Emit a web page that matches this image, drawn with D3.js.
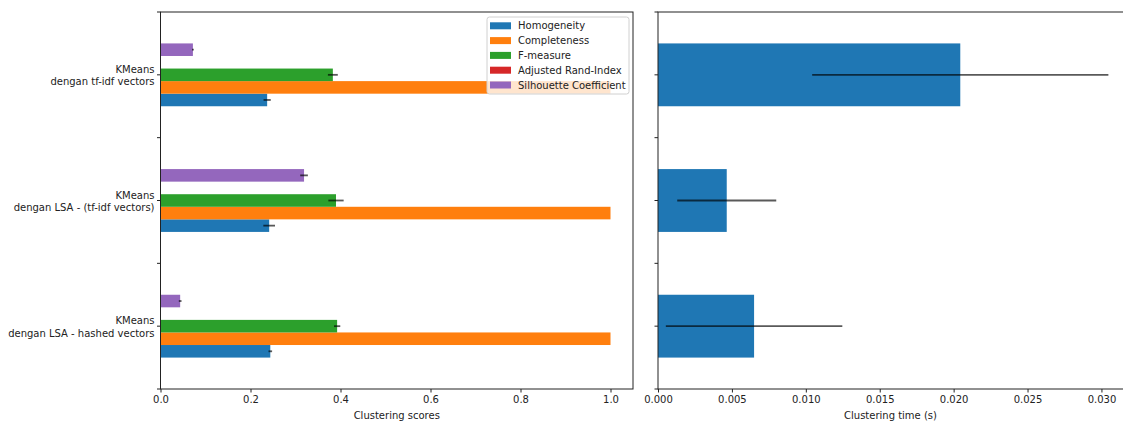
<!DOCTYPE html>
<html>
<head>
<meta charset="utf-8">
<script src="https://cdn.jsdelivr.net/npm/d3@7"></script>
<style>
  body { margin: 0; background: #fff; }
  text { font-family: "DejaVu Sans", sans-serif; fill: #222; }
</style>
</head>
<body>
<div id="chart"></div>
<script>
////////////////////////////////////////////////////////////////////////
// Data (bottom to top, matching the y positions 0, 1, 2)

let estimators = [
  ["KMeans", "dengan LSA - hashed vectors"],
  ["KMeans", "dengan LSA - (tf-idf vectors)"],
  ["KMeans", "dengan tf-idf vectors"]
];
let metrics = ["Homogeneity", "Completeness", "F-measure", "Adjusted Rand-Index", "Silhouette Coefficient"];

let homogeneity = [0.244, 0.2415, 0.237];
let completeness = [1.0, 1.0, 1.0];
let fMeasure = [0.3925, 0.39, 0.383];
let randIndex = [0, 0, 0];
let silhouette = [0.0437, 0.319, 0.072];

let homogeneityStd = [0.004, 0.013, 0.008];
let completenessStd = [0, 0, 0];
let fMeasureStd = [0.007, 0.017, 0.011];
let randIndexStd = [0, 0, 0];
let silhouetteStd = [0.003, 0.0085, 0.002];

let trainTime = [0.0065, 0.00465, 0.02045];
let trainTimeStd = [0.00597, 0.00335, 0.01002];

let scoreTicks = [0, 0.2, 0.4, 0.6, 0.8, 1.0];
let timeTicks = [0, 0.005, 0.010, 0.015, 0.020, 0.025, 0.030];
let yTicks = [-0.5, 0, 0.5, 1, 1.5, 2, 2.5];

let colors = ["#1f77b4", "#ff7f0e", "#2ca02c", "#d62728", "#9467bd"];

////////////////////////////////////////////////////////////////////////
// Layout

let width = 1123, height = 421;
let plotTop = 12, plotBottom = 389;
let left0 = 160.5, right0 = 633;
let left1 = 658, right1 = 1131;

let svg = d3.select("#chart").append("svg")
  .attr("width", width)
  .attr("height", height);

let yScale = d3.scaleLinear().domain([-0.5, 2.5]).range([plotBottom, plotTop]);
let xScore = d3.scaleLinear().domain([0, 1.05]).range([left0, right0]);
let xTime = d3.scaleLinear().domain([0, 0.032]).range([left1, right1]);

let scoreSeries = [homogeneity, completeness, fMeasure, randIndex, silhouette];
let scoreStd = [homogeneityStd, completenessStd, fMeasureStd, randIndexStd, silhouetteStd];

function errLine(g, x, xv, err, yc) {
  g.append("line")
    .attr("x1", x(xv - err)).attr("x2", x(xv + err))
    .attr("y1", yc).attr("y2", yc)
    .attr("stroke", "#000")
    .attr("stroke-opacity", 0.65)
    .attr("stroke-width", 1.8);
}

////////////////////////////////////////////////////////////////////////
// Left: clustering scores

let g0 = svg.append("g");
let barH = yScale(0) - yScale(0.1);

scoreSeries.forEach((vals, j) => {
  vals.forEach((v, i) => {
    let yc = yScale(i - 0.2 + j * 0.1);
    g0.append("rect")
      .attr("x", xScore(0))
      .attr("y", yc - barH / 2)
      .attr("width", xScore(v) - xScore(0))
      .attr("height", barH)
      .attr("fill", colors[j]);
  });
});
scoreSeries.forEach((vals, j) => {
  vals.forEach((v, i) => {
    let yc = yScale(i - 0.2 + j * 0.1);
    if (scoreStd[j][i] > 0) errLine(g0, xScore, v, scoreStd[j][i], yc);
  });
});

// x axis
let ax0 = g0.append("g").attr("transform", `translate(0,${plotBottom})`)
  .call(d3.axisBottom(xScore).tickValues(scoreTicks).tickFormat(d3.format(".1f")).tickSize(3.5).tickPadding(3.5));
ax0.select(".domain").remove();
ax0.selectAll("text").attr("font-size", 10).style("font-family", "DejaVu Sans");
ax0.selectAll("line").attr("stroke", "#222");

g0.append("text")
  .attr("x", (left0 + right0) / 2)
  .attr("y", 419)
  .attr("text-anchor", "middle")
  .attr("font-size", 10)
  .text("Clustering scores");

// y ticks with labels at integer positions
yTicks.forEach(t => {
  g0.append("line")
    .attr("x1", left0 - 3.5).attr("x2", left0)
    .attr("y1", yScale(t)).attr("y2", yScale(t))
    .attr("stroke", "#222");
});
estimators.forEach((lines, i) => {
  let txt = g0.append("text")
    .attr("x", left0 - 6)
    .attr("y", yScale(i) - 2)
    .attr("text-anchor", "end")
    .attr("font-size", 10);
  lines.forEach((l, k) => {
    txt.append("tspan").attr("x", left0 - 6).attr("dy", k === 0 ? 0 : 12.5).text(l);
  });
});

g0.append("rect")
  .attr("x", left0).attr("y", plotTop)
  .attr("width", right0 - left0).attr("height", plotBottom - plotTop)
  .attr("fill", "none").attr("stroke", "#222").attr("stroke-width", 1);

// legend
let lg = g0.append("g").attr("transform", "translate(487,17)");
lg.append("rect")
  .attr("width", 142).attr("height", 77).attr("rx", 2.5)
  .attr("fill", "#fff").attr("fill-opacity", 0.8)
  .attr("stroke", "#d0d0d0");
metrics.forEach((m, j) => {
  let row = lg.append("g").attr("transform", `translate(3,${8.8 + j * 14.8})`);
  row.append("rect").attr("x", 0).attr("y", -3.5).attr("width", 21).attr("height", 7).attr("fill", colors[j]);
  row.append("text").attr("x", 28).attr("y", 3.6).attr("font-size", 10).text(m);
});

////////////////////////////////////////////////////////////////////////
// Right: clustering time

let g1 = svg.append("g");
let timeH = yScale(0) - yScale(0.5);

trainTime.forEach((v, i) => {
  g1.append("rect")
    .attr("x", xTime(0))
    .attr("y", yScale(i) - timeH / 2)
    .attr("width", xTime(v) - xTime(0))
    .attr("height", timeH)
    .attr("fill", colors[0]);
});
trainTime.forEach((v, i) => errLine(g1, xTime, v, trainTimeStd[i], yScale(i)));

let ax1 = g1.append("g").attr("transform", `translate(0,${plotBottom})`)
  .call(d3.axisBottom(xTime).tickValues(timeTicks).tickFormat(d3.format(".3f")).tickSize(3.5).tickPadding(3.5));
ax1.select(".domain").remove();
ax1.selectAll("text").attr("font-size", 10).style("font-family", "DejaVu Sans");
ax1.selectAll("line").attr("stroke", "#222");

g1.append("text")
  .attr("x", (left1 + 1123) / 2)
  .attr("y", 419)
  .attr("text-anchor", "middle")
  .attr("font-size", 10)
  .text("Clustering time (s)");

yTicks.forEach(t => {
  g1.append("line")
    .attr("x1", left1 - 3.5).attr("x2", left1)
    .attr("y1", yScale(t)).attr("y2", yScale(t))
    .attr("stroke", "#222");
});

g1.append("rect")
  .attr("x", left1).attr("y", plotTop)
  .attr("width", right1 - left1).attr("height", plotBottom - plotTop)
  .attr("fill", "none").attr("stroke", "#222").attr("stroke-width", 1);
</script>
</body>
</html>
